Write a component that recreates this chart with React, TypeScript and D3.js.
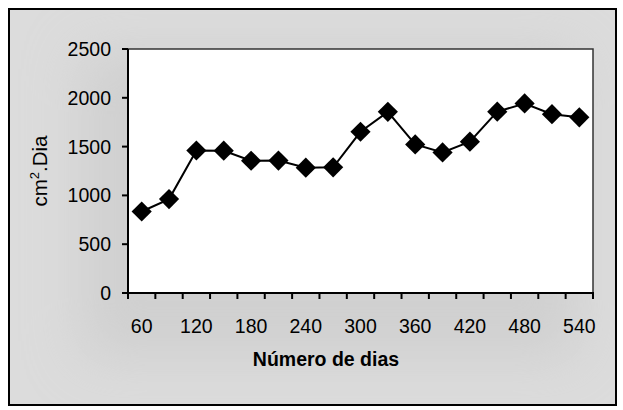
import React from "react";
import * as d3 from "d3";

const days = [60, 90, 120, 150, 180, 210, 240, 270, 300, 330, 360, 390, 420, 450, 480, 510, 540];
const values = [835, 962, 1460, 1458, 1355, 1357, 1284, 1288, 1652, 1856, 1522, 1440, 1550, 1858, 1942, 1832, 1800];
const yTicks = [0, 500, 1000, 1500, 2000, 2500];
const xLabelDays = [60, 120, 180, 240, 300, 360, 420, 480, 540];

const W = 623;
const H = 410;
const plot = { left: 128, right: 593, top: 49, bottom: 293 };
const FONT = "'Liberation Sans', Arial, sans-serif";

export default function App() {
  const x = d3
    .scaleBand<number>()
    .domain(days)
    .range([plot.left, plot.right])
    .paddingInner(0)
    .paddingOuter(0);
  const y = d3.scaleLinear().domain([0, 2500]).range([plot.bottom, plot.top]);

  const cx = (d: number) => (x(d) ?? 0) + x.bandwidth() / 2;
  const line = d3
    .line<number>()
    .x((_, i) => cx(days[i]))
    .y((v) => y(v));

  const diamond = d3.symbol().type(d3.symbolDiamond2).size(260)();
  const boundaries = [...days.map((d) => x(d) ?? 0), plot.right];

  return (
    <svg
      width={W}
      height={H}
      style={{ position: "absolute", left: 0, top: 0 }}
      fontFamily={FONT}
    >
      <defs>
        <filter id="soft" x="-30%" y="-30%" width="160%" height="160%">
          <feGaussianBlur stdDeviation="28" />
        </filter>
        <clipPath id="frame">
          <rect x={9} y={9} width={607} height={396} />
        </clipPath>
      </defs>

      <rect x={9} y={9} width={607} height={396} fill="#dcdcdc" />
      <g clipPath="url(#frame)">
        <rect x={80} y={50} width={500} height={310} fill="#c4c4c4" opacity={0.5} filter="url(#soft)" />
      </g>
      <rect x={9} y={9} width={607} height={396} fill="none" stroke="#000" strokeWidth={2} />

      <rect
        x={plot.left}
        y={plot.top}
        width={plot.right - plot.left}
        height={plot.bottom - plot.top}
        fill="#fff"
        stroke="#333"
        strokeWidth={1.5}
      />

      {/* y axis */}
      <line x1={plot.left} x2={plot.left} y1={plot.top} y2={plot.bottom} stroke="#000" strokeWidth={2} />
      {yTicks.map((t) => (
        <g key={t}>
          <line x1={plot.left - 6} x2={plot.left} y1={y(t)} y2={y(t)} stroke="#000" strokeWidth={2} />
          <text x={111} y={y(t)} dy="0.36em" textAnchor="end" fontSize={19.5} fill="#000">
            {t}
          </text>
        </g>
      ))}

      {/* x axis */}
      <line x1={plot.left - 6} x2={plot.right + 1} y1={plot.bottom} y2={plot.bottom} stroke="#000" strokeWidth={2} />
      {boundaries.map((b, i) => (
        <line key={i} x1={b} x2={b} y1={plot.bottom} y2={plot.bottom + 6} stroke="#000" strokeWidth={2} />
      ))}
      {xLabelDays.map((d) => (
        <text key={d} x={cx(d)} y={333} textAnchor="middle" fontSize={19.5} fill="#000">
          {d}
        </text>
      ))}

      <text x={326} y={366} textAnchor="middle" fontSize={19.5} fontWeight="bold" fill="#000">
        Número de dias
      </text>

      <text
        transform={`translate(47, ${(plot.top + plot.bottom) / 2}) rotate(-90)`}
        textAnchor="middle"
        fontSize={20.5}
        fill="#000"
      >
        cm<tspan dy={-8} fontSize={13}>2</tspan>
        <tspan dy={8}>.Dia</tspan>
      </text>

      <path d={line(values) ?? ""} fill="none" stroke="#000" strokeWidth={2} />
      {values.map((v, i) => (
        <path key={i} d={diamond ?? ""} transform={`translate(${cx(days[i])},${y(v)})`} fill="#000" />
      ))}
    </svg>
  );
}
